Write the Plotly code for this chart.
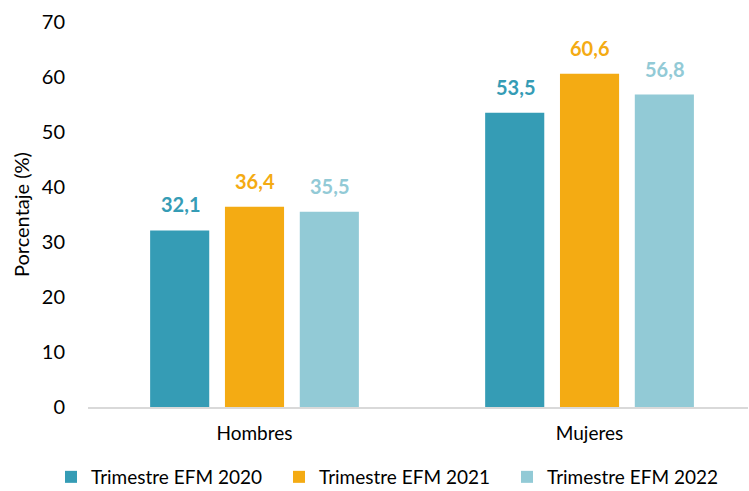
import plotly.graph_objects as go

categories = ["Hombres", "Mujeres"]
series_names = ["Trimestre EFM 2020", "Trimestre EFM 2021", "Trimestre EFM 2022"]
values_2020 = [32.1, 53.5]
values_2021 = [36.4, 60.6]
values_2022 = [35.5, 56.8]
colors = ["#359CB5", "#F4AB13", "#92CAD6"]
y_ticks = [0, 10, 20, 30, 40, 50, 60, 70]

FONT = "Lato, Liberation Sans, sans-serif"
all_values = [values_2020, values_2021, values_2022]

fig = go.Figure()
for name, vals, col in zip(series_names, all_values, colors):
    fig.add_trace(go.Bar(
        x=categories, y=vals, name=name, marker=dict(color=col, line=dict(width=0)),
    ))

# value labels
offsets = [-74.5, 0, 74.5]
for vals, col, off in zip(all_values, colors, offsets):
    for c, v in zip(categories, vals):
        fig.add_annotation(
            x=c, y=v, text="<b>" + f"{v:.1f}".replace(".", ",") + "</b>",
            showarrow=False, xshift=off, yshift=12, yanchor="bottom",
            font=dict(family=FONT, size=20, color=col),
        )

# y-axis title
fig.add_annotation(
    xref="paper", yref="paper", x=(21 - 88) / 660, y=(407 - 215) / 385,
    text="Porcentaje (%)", textangle=-90, showarrow=False,
    xanchor="center", yanchor="middle",
    font=dict(family=FONT, size=20, color="#000000"),
)

fig.update_layout(
    width=749, height=491,
    margin=dict(l=88, r=1, t=22, b=84, autoexpand=False),
    paper_bgcolor="white", plot_bgcolor="white",
    barmode="group", bargap=0.33, bargroupgap=0.21,
    font=dict(family=FONT, size=20, color="#000000"),
    showlegend=True,
    legend=dict(orientation="h", xref="paper", yref="paper",
                x=(51 - 88) / 660, xanchor="left", y=(407 - 477) / 385, yanchor="middle",
                bgcolor="rgba(0,0,0,0)", borderwidth=0,
                font=dict(family=FONT, size=19, color="#000000"),
                entrywidth=183, entrywidthmode="pixels",
                itemwidth=30, traceorder="normal"),
    xaxis=dict(
        type="category", range=[-0.497, 1.473], automargin=False,
        showline=True, linecolor="#D9D9D9", linewidth=2,
        ticks="", ticklabelstandoff=8,
        tickfont=dict(family=FONT, size=19, color="#000000"),
        showgrid=False,
    ),
    yaxis=dict(
        range=[0, 70], tickvals=y_ticks, showgrid=False, zeroline=False, automargin=False,
        showline=False, ticks="", ticklabelstandoff=22,
        tickfont=dict(family=FONT, size=20, color="#000000"),
    ),
)

fig.write_html("out.html", config={"displayModeBar": False},
               post_script="document.body.style.margin='0';document.body.style.padding='0';")
